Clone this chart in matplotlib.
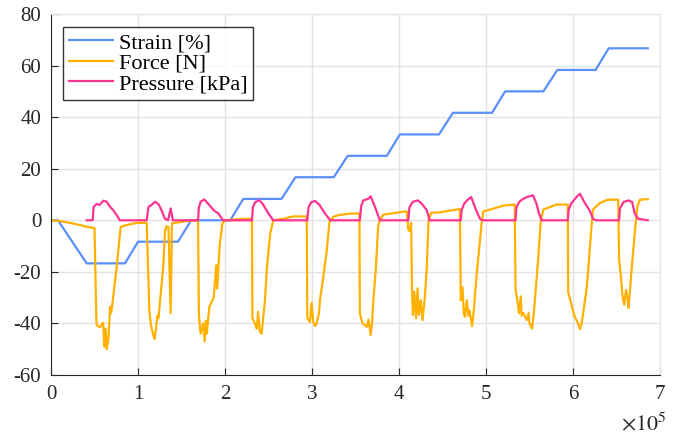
import numpy as np
import matplotlib
matplotlib.use("Agg")
import matplotlib.pyplot as plt

plt.rcParams['font.family'] = ['Liberation Serif', 'DejaVu Serif']
plt.rcParams['mathtext.fontset'] = 'stix'
plt.rcParams['axes.unicode_minus'] = False

# x values are read in units of 1e5
strain_x = [0, 0.08, 0.41, 0.85, 1.0, 1.46, 1.61, 2.06, 2.21, 2.65, 2.81, 3.25, 3.41,
            3.86, 4.01, 4.46, 4.62, 5.07, 5.22, 5.66, 5.82, 6.26, 6.41, 6.86]
strain_y = [0, 0, -16.7, -16.7, -8.3, -8.3, 0, 0, 8.3, 8.3, 16.7, 16.7, 25,
            25, 33.3, 33.3, 41.7, 41.7, 50, 50, 58.3, 58.3, 66.7, 66.7]

force_x = [0, 0.1, 0.25, 0.41, 0.50,
           0.52, 0.525, 0.563, 0.58, 0.60, 0.612, 0.628, 0.64, 0.66, 0.68, 0.69, 0.70, 0.755, 0.80, 0.85, 0.985, 1.08,
           1.10, 1.13, 1.15, 1.18, 1.19, 1.21, 1.223, 1.235, 1.29, 1.31, 1.33, 1.35, 1.375, 1.39, 1.425, 1.56, 1.69,
           1.70, 1.72, 1.75, 1.766, 1.78, 1.79, 1.82, 1.87, 1.90, 1.91, 1.94, 1.97, 2.0, 2.21, 2.31,
           2.315, 2.345, 2.365, 2.38, 2.40, 2.42, 2.46, 2.48, 2.52, 2.555, 2.67, 2.78, 2.94,
           2.946, 2.976, 2.995, 3.015, 3.035, 3.053, 3.08, 3.095, 3.12, 3.17, 3.20, 3.245, 3.30, 3.44, 3.545,
           3.55, 3.58, 3.63, 3.65, 3.674, 3.69, 3.70, 3.735, 3.76, 3.78, 3.82, 4.09,
           4.107, 4.125, 4.14, 4.15, 4.16, 4.175, 4.197, 4.213, 4.228, 4.25, 4.27, 4.297, 4.32, 4.34, 4.37, 4.47, 4.70,
           4.71, 4.73, 4.745, 4.757, 4.78, 4.797, 4.81, 4.84, 4.86, 4.89, 4.95, 4.97, 5.05, 5.20, 5.33,
           5.34, 5.36, 5.38, 5.40, 5.41, 5.43, 5.47, 5.49, 5.50, 5.53, 5.55, 5.60, 5.63, 5.66, 5.81, 5.94,
           5.945, 5.97, 6.00, 6.02, 6.06, 6.08, 6.10, 6.16, 6.21, 6.23, 6.31, 6.40, 6.52,
           6.53, 6.55, 6.57, 6.59, 6.61, 6.63, 6.64, 6.67, 6.71, 6.74, 6.77, 6.86]
force_y = [0, -0.3, -1.2, -2.5, -3,
           -37, -40.6, -41.5, -40.5, -39.7, -49, -42, -50, -46, -33.5, -36, -34, -18, -2.6, -2, -1, -1,
           -1, -35, -41, -45, -46, -41, -37, -38, -18, -4, -2.3, -2.6, -36, -1.2, -1, -0.3, 0,
           -37, -44, -40, -47, -39, -44, -33.5, -30, -17.4, -26.5, -9, -1.3, 0, 0.6, 0.6,
           -38, -40, -42, -35.5, -43, -44, -31, -19, -5, 0, 0.6, 1.5, 1.5,
           -38, -39.4, -32, -39.5, -41, -40, -36, -30, -24.5, -11.6, -0.6, 1.3, 2.0, 2.6, 2.6,
           -36, -40, -41.3, -38.5, -44.5, -40, -33.5, -18, -2.3, 0, 2.2, 3.5,
           -3.6, -4.2, -1, -28, -36.7, -27.7, -38, -26.4, -36.7, -31, -38.7, -30, -18, 0, 2.9, 3.1, 4.4,
           -31, -26, -36, -37.4, -31, -37, -35, -41, -35, -22, -1, 3.5, 4.2, 5.7, 6.1,
           -27, -31, -36, -29.5, -37, -36, -38.7, -36, -40, -42, -36, -15, 0, 4.2, 6.1, 6.1,
           -28, -31, -35, -37.4, -40, -42.3, -40, -25.7, -3.6, 4.2, 6.7, 8, 8,
           -15, -21.5, -29.6, -32.8, -27, -31, -34, -20.5, -5, 5.5, 8, 8.2]

press_x = [0.41, 0.479, 0.49, 0.525, 0.56, 0.602, 0.64, 0.68, 0.716, 0.755, 0.79, 1.10,
           1.12, 1.15, 1.196, 1.235, 1.27, 1.31, 1.345, 1.376, 1.40, 1.69,
           1.70, 1.72, 1.76, 1.81, 1.87, 1.925, 1.95, 1.98, 2.31,
           2.32, 2.345, 2.395, 2.44, 2.50, 2.555, 2.946,
           2.96, 2.99, 3.035, 3.085, 3.15, 3.21, 3.55,
           3.565, 3.59, 3.65, 3.674, 3.724, 3.78, 4.107,
           4.12, 4.157, 4.19, 4.22, 4.26, 4.32, 4.35, 4.71,
           4.72, 4.75, 4.79, 4.83, 4.88, 4.93, 4.96, 5.34,
           5.35, 5.38, 5.43, 5.47, 5.54, 5.58, 5.61, 5.64, 5.94,
           5.95, 5.98, 6.04, 6.08, 6.13, 6.19, 6.23, 6.26, 6.53,
           6.54, 6.58, 6.64, 6.68, 6.71, 6.75, 6.86]
press_y = [0, 0, 5.2, 6.3, 6.0, 7.6, 7.2, 5.2, 3.9, 2.0, 0, 0,
           5.2, 5.8, 7.2, 6.3, 3.9, 0.6, 0, 4.6, 0, 0,
           5.0, 7.2, 8.1, 6.3, 3.9, 2.6, 1.3, 0, 0,
           5.0, 7.0, 7.8, 6.0, 2.6, 0, 0,
           5.0, 7.0, 7.5, 6.0, 2.6, 0, 0,
           5.5, 7.7, 8.4, 9.3, 5.2, 0, 0,
           5.0, 7.1, 7.5, 7.7, 6.5, 3.9, 0, 0,
           4.0, 6.5, 8.0, 9.0, 4.5, 0.6, 0, 0,
           5.0, 7.1, 8.4, 9.0, 9.7, 6.5, 2.6, 0, 0,
           4.0, 6.5, 9.0, 10.3, 7.1, 3.9, 0.6, 0, 0,
           4.5, 7.1, 7.7, 7.1, 2.6, 0.6, 0]

x_ticks = [0, 1, 2, 3, 4, 5, 6, 7]
y_ticks = [-60, -40, -20, 0, 20, 40, 60, 80]

fig = plt.figure(figsize=(6.83, 4.38), dpi=100)
ax = fig.add_axes([0.0747, 0.1438, 0.8916, 0.8242])

scale = 1e5
ax.plot(np.array(strain_x) * scale, strain_y, color='#5B8FF9', lw=1.6, label='Strain [%]')
ax.plot(np.array(force_x) * scale, force_y, color='#FFB000', lw=1.6, label='Force [N]')
ax.plot(np.array(press_x) * scale, press_y, color='#FE3490', lw=1.6, label='Pressure [kPa]')

ax.set_xlim(0, 7e5)
ax.set_ylim(-60, 80)
ax.set_xticks(np.array(x_ticks) * scale)
ax.set_xticklabels([str(t) for t in x_ticks])
ax.set_yticks(y_ticks)
ax.set_yticklabels([str(t) for t in y_ticks])
# exponent label, MATLAB style
fig.text(667 / 683, 1 - 430 / 438, r'$\times 10^5$', fontsize=16, color='#262626',
         ha='right', va='baseline')

ax.grid(True, color='#E3E3E3', lw=1)
ax.set_axisbelow(True)
for s in ['top', 'right']:
    ax.spines[s].set_color('#E3E3E3')
for s in ['left', 'bottom']:
    ax.spines[s].set_color('#262626')
ax.tick_params(direction='in', length=5, labelsize=15, colors='#262626', top=False, right=False, pad=7)

leg = ax.legend(loc='upper left', fontsize=16, frameon=True, fancybox=False, edgecolor='black',
                borderpad=0.25, labelspacing=0.0, handlelength=2.0, handletextpad=0.25,
                borderaxespad=0, bbox_to_anchor=(0.0197, 0.964))
leg.get_frame().set_linewidth(1.0)

fig.savefig('out.png', dpi=100)
